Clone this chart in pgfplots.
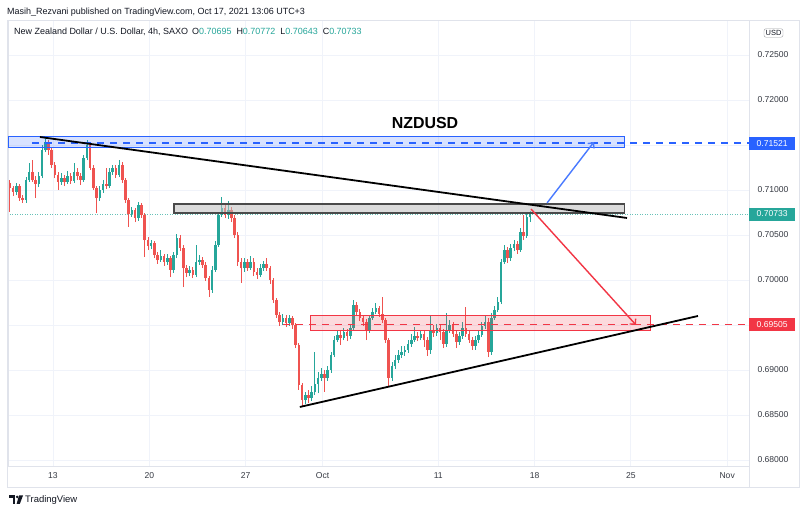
\documentclass[border=0pt]{standalone}
\usepackage{pgfplots}
\pgfplotsset{compat=1.18}
\usepackage{pgfplotstable}
\usetikzlibrary{arrows.meta}
\usepackage{fontspec}
\setmainfont{Liberation Sans}
\definecolor{upc}{HTML}{26A69A}
\definecolor{dnc}{HTML}{EF5350}
\definecolor{tvblue}{HTML}{2962FF}
\definecolor{tvred}{HTML}{F23645}
\definecolor{gridc}{HTML}{F0F3FA}
\definecolor{borderc}{HTML}{E0E3EB}
\definecolor{txt}{HTML}{131722}
\definecolor{rectgrey}{HTML}{4A4A4A}

\pgfplotstableread{
k o h l c
0 0.71078 0.71111 0.70756 0.71022
1 0.71022 0.71044 0.70933 0.70978
2 0.70978 0.71078 0.70944 0.71044
3 0.71044 0.71067 0.70878 0.70911
4 0.70911 0.70944 0.70856 0.70889
5 0.70889 0.71144 0.70856 0.71111
6 0.71111 0.71300 0.71089 0.71200
7 0.71200 0.71333 0.71089 0.71111
8 0.71111 0.71156 0.70911 0.71067
9 0.71067 0.71200 0.71033 0.71156
10 0.71156 0.71500 0.71133 0.71444
11 0.71444 0.71589 0.71422 0.71533
12 0.71533 0.71556 0.71389 0.71444
13 0.71444 0.71478 0.71244 0.71278
14 0.71278 0.71311 0.71133 0.71167
15 0.71167 0.71200 0.71000 0.71089
16 0.71089 0.71189 0.71056 0.71133
17 0.71133 0.71167 0.71044 0.71089
18 0.71089 0.71211 0.71067 0.71156
19 0.71156 0.71189 0.71067 0.71100
20 0.71100 0.71300 0.71078 0.71200
21 0.71200 0.71244 0.71111 0.71156
22 0.71156 0.71189 0.71056 0.71111
23 0.71111 0.71389 0.71089 0.71356
24 0.71356 0.71556 0.71333 0.71500
25 0.71500 0.71533 0.71222 0.71244
26 0.71244 0.71278 0.71000 0.71022
27 0.71022 0.71044 0.70744 0.70911
28 0.70911 0.71044 0.70878 0.71000
29 0.71000 0.71111 0.70967 0.71067
30 0.71067 0.71244 0.71011 0.71044
31 0.71044 0.71244 0.71022 0.71200
32 0.71200 0.71278 0.71167 0.71244
33 0.71244 0.71278 0.71133 0.71167
34 0.71167 0.71333 0.71144 0.71278
35 0.71278 0.71311 0.71078 0.71111
36 0.71111 0.71133 0.70856 0.70889
37 0.70889 0.70911 0.70589 0.70733
38 0.70733 0.70811 0.70700 0.70778
39 0.70778 0.70800 0.70644 0.70689
40 0.70689 0.70867 0.70656 0.70833
41 0.70833 0.70856 0.70689 0.70722
42 0.70722 0.70744 0.70256 0.70444
43 0.70444 0.70478 0.70333 0.70378
44 0.70378 0.70444 0.70344 0.70411
45 0.70411 0.70433 0.70244 0.70278
46 0.70278 0.70311 0.70178 0.70222
47 0.70222 0.70333 0.70200 0.70267
48 0.70267 0.70289 0.70156 0.70200
49 0.70200 0.70289 0.70167 0.70244
50 0.70244 0.70267 0.70033 0.70111
51 0.70111 0.70311 0.70078 0.70278
52 0.70278 0.70511 0.70244 0.70467
53 0.70467 0.70500 0.70322 0.70356
54 0.70356 0.70389 0.69922 0.70133
55 0.70133 0.70167 0.70033 0.70078
56 0.70078 0.70156 0.70044 0.70111
57 0.70111 0.70144 0.70022 0.70056
58 0.70056 0.70389 0.70033 0.70200
59 0.70200 0.70278 0.70167 0.70222
60 0.70222 0.70256 0.70133 0.70167
61 0.70167 0.70200 0.69989 0.70022
62 0.70022 0.70044 0.69811 0.69889
63 0.69889 0.70156 0.69856 0.70111
64 0.70111 0.70433 0.70089 0.70389
65 0.70389 0.70756 0.70367 0.70722
66 0.70722 0.70922 0.70700 0.70800
67 0.70800 0.70844 0.70689 0.70722
68 0.70722 0.70878 0.70678 0.70778
69 0.70778 0.70811 0.70644 0.70689
70 0.70689 0.70722 0.70467 0.70500
71 0.70500 0.70533 0.70156 0.70200
72 0.70200 0.70244 0.69967 0.70133
73 0.70133 0.70244 0.70089 0.70200
74 0.70200 0.70233 0.70100 0.70133
75 0.70133 0.70267 0.70111 0.70200
76 0.70200 0.70244 0.70044 0.70089
77 0.70089 0.70133 0.70011 0.70056
78 0.70056 0.70178 0.70033 0.70133
79 0.70133 0.70211 0.70100 0.70178
80 0.70178 0.70244 0.70100 0.70133
81 0.70133 0.70156 0.69956 0.70000
82 0.70000 0.70022 0.69744 0.69778
83 0.69778 0.69800 0.69578 0.69611
84 0.69611 0.69644 0.69489 0.69533
85 0.69533 0.69622 0.69500 0.69578
86 0.69578 0.69611 0.69478 0.69522
87 0.69522 0.69611 0.69489 0.69578
88 0.69578 0.69600 0.69456 0.69500
89 0.69500 0.69522 0.69244 0.69278
90 0.69278 0.69300 0.68778 0.68833
91 0.68833 0.68856 0.68589 0.68667
92 0.68667 0.68756 0.68622 0.68722
93 0.68722 0.68778 0.68633 0.68689
94 0.68689 0.68822 0.68656 0.68756
95 0.68756 0.69200 0.68722 0.68844
96 0.68844 0.68978 0.68744 0.68911
97 0.68911 0.69022 0.68878 0.68956
98 0.68956 0.69000 0.68756 0.68911
99 0.68911 0.69044 0.68878 0.69000
100 0.69000 0.69200 0.68967 0.69167
101 0.69167 0.69378 0.69144 0.69333
102 0.69333 0.69433 0.69311 0.69389
103 0.69389 0.69444 0.69278 0.69356
104 0.69356 0.69467 0.69333 0.69422
105 0.69422 0.69456 0.69322 0.69378
106 0.69378 0.69511 0.69344 0.69467
107 0.69467 0.69778 0.69444 0.69722
108 0.69722 0.69756 0.69611 0.69644
109 0.69644 0.69678 0.69544 0.69578
110 0.69578 0.69611 0.69489 0.69533
111 0.69533 0.69567 0.69333 0.69444
112 0.69444 0.69611 0.69411 0.69578
113 0.69578 0.69689 0.69556 0.69644
114 0.69644 0.69744 0.69622 0.69689
115 0.69689 0.69711 0.69589 0.69622
116 0.69622 0.69811 0.69522 0.69556
117 0.69556 0.69578 0.69300 0.69333
118 0.69333 0.69356 0.68811 0.68911
119 0.68911 0.69089 0.68878 0.69044
120 0.69044 0.69167 0.69011 0.69111
121 0.69111 0.69222 0.69078 0.69167
122 0.69167 0.69267 0.69133 0.69200
123 0.69200 0.69267 0.69156 0.69222
124 0.69222 0.69333 0.69189 0.69289
125 0.69289 0.69400 0.69256 0.69333
126 0.69333 0.69478 0.69311 0.69378
127 0.69378 0.69422 0.69322 0.69356
128 0.69356 0.69444 0.69333 0.69400
129 0.69400 0.69433 0.69256 0.69333
130 0.69333 0.69367 0.69156 0.69222
131 0.69222 0.69611 0.69178 0.69444
132 0.69444 0.69500 0.69367 0.69411
133 0.69411 0.69511 0.69378 0.69467
134 0.69467 0.69500 0.69333 0.69422
135 0.69422 0.69456 0.69244 0.69289
136 0.69289 0.69633 0.69256 0.69444
137 0.69444 0.69556 0.69411 0.69500
138 0.69500 0.69533 0.69367 0.69400
139 0.69400 0.69433 0.69244 0.69311
140 0.69311 0.69422 0.69278 0.69378
141 0.69378 0.69533 0.69344 0.69467
142 0.69467 0.69700 0.69367 0.69400
143 0.69400 0.69433 0.69300 0.69333
144 0.69333 0.69367 0.69222 0.69267
145 0.69267 0.69378 0.69222 0.69333
146 0.69333 0.69433 0.69300 0.69389
147 0.69389 0.69533 0.69367 0.69489
148 0.69489 0.69600 0.69456 0.69533
149 0.69533 0.69578 0.69144 0.69200
150 0.69200 0.69633 0.69167 0.69578
151 0.69578 0.69711 0.69556 0.69667
152 0.69667 0.69811 0.69644 0.69756
153 0.69756 0.70233 0.69733 0.70200
154 0.70200 0.70389 0.70178 0.70333
155 0.70333 0.70367 0.70189 0.70244
156 0.70244 0.70400 0.70211 0.70356
157 0.70356 0.70444 0.70322 0.70400
158 0.70400 0.70433 0.70289 0.70333
159 0.70333 0.70578 0.70311 0.70533
160 0.70533 0.70722 0.70444 0.70489
161 0.70489 0.70756 0.70467 0.70700
162 0.70695 0.70772 0.70643 0.70733
}\candles

\begin{document}
\begin{tikzpicture}
\fill[white] (0,0) rectangle (806bp,514bp);
\path[use as bounding box] (0,0) rectangle (806bp,514bp);
% outer frame
\draw[borderc, line width=0.8bp] (7.5bp,27bp) rectangle (799.5bp,494bp);
\draw[borderc, line width=0.8bp] (749bp,27bp) -- (749bp,48bp);
% top line
\node[anchor=west, inner sep=0, font=\fontsize{9}{11}\selectfont, text=txt] at (7bp,502bp)
  {Masih\_Rezvani published on TradingView.com, Oct 17, 2021 13:06 UTC+3};
\begin{axis}[
  at={(8bp,48bp)}, anchor=south west,
  scale only axis, width=741bp, height=446bp,
  xmin=-0.6, xmax=230.2, ymin=0.67933, ymax=0.72889,
  clip=false,
  axis line style={draw=borderc, line width=0.8bp},
  major tick length=0pt,
  xtick={13.4,43.4,73.4,97.4,133.4,163.4,193.4,223.4},
  xticklabels={13,20,27,Oct,11,18,25,Nov},
  ytick={0.680,0.685,0.690,0.695,0.700,0.705,0.710,0.715,0.720,0.725},
  yticklabels={0.68000,0.68500,0.69000,,0.70000,0.70500,0.71000,,0.72000,0.72500},
  yticklabel pos=right,
  scaled y ticks=false,
  /pgf/number format/assume math mode=true,
  tick label style={font=\fontsize{8.6}{10}\selectfont, text=txt!85},
  xticklabel style={anchor=base, yshift=-13bp},
  yticklabel style={anchor=center, xshift=24bp},
  grid=major, grid style={draw=gridc, line width=0.8bp},
]
% teal dotted last price line
\addplot[upc!70, line width=0.9bp, dash pattern=on 1bp off 1.5bp] coordinates {(0,0.70733) (230.2,0.70733)};
% wicks
\addplot[upc, line width=0.9bp, mark=none, quiver={u=0, v=\thisrow{h}-\thisrow{l}}]
  table[x=k, y expr={\thisrow{c}>=\thisrow{o} ? \thisrow{l} : nan}] {\candles};
\addplot[dnc, line width=0.9bp, mark=none, quiver={u=0, v=\thisrow{h}-\thisrow{l}}]
  table[x=k, y expr={\thisrow{c}<\thisrow{o} ? \thisrow{l} : nan}] {\candles};
% bodies
\addplot[upc, line width=2.6bp, mark=none, quiver={u=0, v=\thisrow{c}-\thisrow{o}}]
  table[x=k, y expr={\thisrow{c}>=\thisrow{o} ? \thisrow{o} : nan}] {\candles};
\addplot[dnc, line width=2.6bp, mark=none, quiver={u=0, v=\thisrow{o}-\thisrow{c}}]
  table[x=k, y expr={\thisrow{c}<\thisrow{o} ? \thisrow{c} : nan}] {\candles};
% rectangles
\addplot[draw=tvblue, line width=1bp, fill=tvblue, fill opacity=0.18] coordinates {(-0.6,0.71467) (191.3,0.71467) (191.3,0.71589) (-0.6,0.71589)} -- cycle;
\addplot[draw=rectgrey, line width=1.2bp, fill=black!25, fill opacity=0.55] coordinates {(51.1,0.70744) (191.3,0.70744) (191.3,0.70844) (51.1,0.70844)} -- cycle;
\addplot[draw=tvred, line width=1bp, fill=tvred, fill opacity=0.18] coordinates {(93.5,0.69444) (199.4,0.69444) (199.4,0.69600) (93.5,0.69600)} -- cycle;
% horizontal dashed levels
\addplot[tvblue, line width=1.4bp, dash pattern=on 7bp off 6bp] coordinates {(6.9,0.71521) (230.2,0.71521)};
\addplot[tvred, line width=1.4bp, dash pattern=on 7bp off 6bp] coordinates {(85,0.69505) (230.2,0.69505)};
% trend lines
\addplot[black, line width=1.8bp] coordinates {(9.35,0.71589) (192.2,0.70689)};
\addplot[black, line width=1.8bp] coordinates {(90.3,0.68589) (214.3,0.69600)};
% arrows
\addplot[tvblue!85!white, line width=1.4bp, -{Straight Barb[length=4bp,width=8bp]}] coordinates {(167.3,0.70856) (181.9,0.71533)};
\addplot[tvred, line width=1.4bp, -{Straight Barb[length=4bp,width=8bp]}] coordinates {(162.3,0.70789) (195.0,0.69500)};
% price tags
\node[fill=tvblue, text=white, anchor=west, minimum width=46bp, minimum height=13bp, inner sep=0, font=\fontsize{8.6}{10}\selectfont] at (axis cs:230.2,0.71521) {0.71521};
\node[fill=upc, text=white, anchor=west, minimum width=46bp, minimum height=13bp, inner sep=0, font=\fontsize{8.6}{10}\selectfont] at (axis cs:230.2,0.70733) {0.70733};
\node[fill=tvred, text=white, anchor=west, minimum width=46bp, minimum height=13bp, inner sep=0, font=\fontsize{8.6}{10}\selectfont] at (axis cs:230.2,0.69505) {0.69505};
\end{axis}
% header inside chart
\node[anchor=west, inner sep=0, font=\fontsize{9}{11}\selectfont, text=txt] at (14bp,482bp)
  {New Zealand Dollar / U.S. Dollar, 4h, SAXO\hspace{4bp}O\textcolor{upc}{0.70695}\hspace{5bp}H\textcolor{upc}{0.70772}\hspace{5bp}L\textcolor{upc}{0.70643}\hspace{5bp}C\textcolor{upc}{0.70733}};
\node[draw=borderc!70!black, rounded corners=2bp, inner sep=1.6bp, font=\fontsize{7.5}{9}\selectfont, text=txt] at (773.5bp,481bp) {USD};
% title
\node[font=\fontsize{16}{19}\bfseries, text=black] at (425bp,391bp) {NZDUSD};
% TradingView logo
\fill[txt] (9bp,16bp) rectangle (15bp,18.5bp);
\fill[txt] (12.5bp,10bp) rectangle (15bp,18.5bp);
\fill[txt] (17.2bp,17.1bp) circle (1.4bp);
\fill[txt] (19bp,18.5bp) -- (23bp,18.5bp) -- (19.8bp,10bp) -- (16.6bp,10bp) -- cycle;
\node[anchor=west, inner sep=0, font=\fontsize{9.5}{11}\selectfont, text=txt] at (25bp,14bp) {TradingView};
\end{tikzpicture}
\end{document}
